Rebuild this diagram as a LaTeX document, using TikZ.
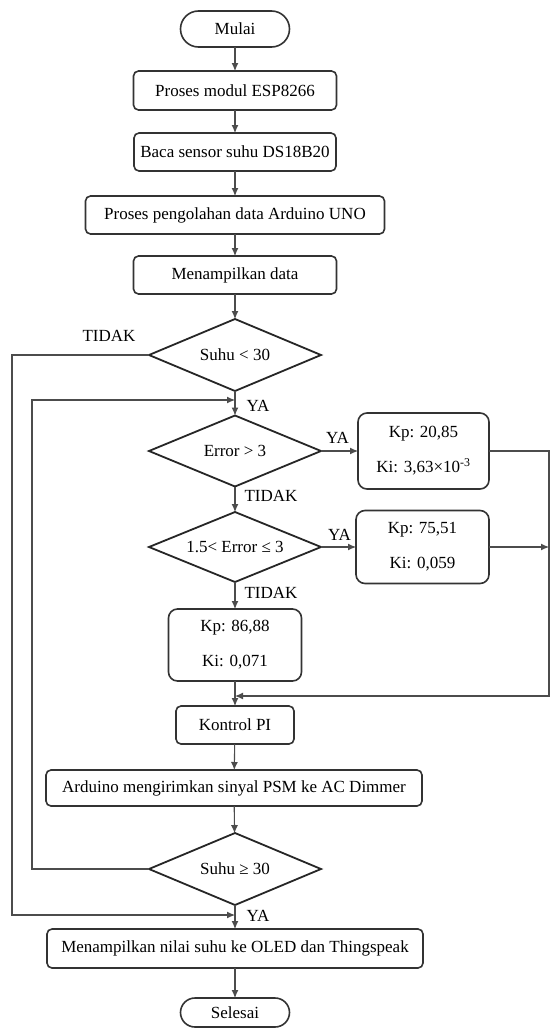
\documentclass[tikz,border=0pt]{standalone}
\usepackage{fontspec}
\setmainfont{Liberation Serif}
\usetikzlibrary{shapes.geometric,shapes.misc,arrows.meta}
\begin{document}
\begin{tikzpicture}[x=1pt,y=-1pt,
  every node/.style={font=\fontsize{17}{20}\selectfont, text=black},
  proc/.style={draw=black!80, line width=1.6pt, rounded corners=5pt, rectangle, inner sep=0pt, outer sep=0pt},
  kbox/.style={proc, rounded corners=9pt, align=center, font=\fontsize{17}{35}\selectfont},
  term/.style={draw=black!80, line width=1.6pt, rounded rectangle, inner sep=0pt, outer sep=0pt, minimum width=109pt, minimum height=36pt},
  dec/.style={draw=black!85, line width=1.8pt, diamond, aspect=2.39, inner sep=0pt, outer sep=0pt, minimum width=172pt, minimum height=72pt},
  arr/.style={draw=black!70, line width=1.1pt, -{Latex[length=8pt,width=7pt]}},
  lbl/.style={inner sep=0pt}
]
\useasboundingbox (0,0) rectangle (552,1028);
\fill[white] (0,0) rectangle (552,1028);

\node[term] (mulai) at (235,29) {Mulai};
\node[proc, minimum width=203pt, minimum height=39pt] (p1) at (235,90.5) {Proses modul ESP8266};
\node[proc, minimum width=202pt, minimum height=38pt] (p2) at (235,152) {Baca sensor suhu DS18B20};
\node[proc, minimum width=299pt, minimum height=38pt] (p3) at (235,215) {Proses pengolahan data Arduino UNO};
\node[proc, minimum width=203pt, minimum height=38pt] (p4) at (235,275) {Menampilkan data};
\node[dec] (d1) at (235,355) {Suhu < 30};
\node[dec, minimum height=71pt] (d2) at (235,451) {Error > 3};
\node[dec, minimum height=70pt] (d3) at (235,547) {1.5< Error ≤ 3};
\node[kbox, minimum width=131pt, minimum height=76pt] (k1) at (423.5,451) {Kp: 20,85\\Ki: 3,63×10\textsuperscript{-3}};
\node[kbox, minimum width=133pt, minimum height=73pt] (k2) at (422.5,547) {Kp: 75,51\\Ki: 0,059};
\node[kbox, minimum width=133pt, minimum height=72pt] (k3) at (235,645) {Kp: 86,88\\Ki: 0,071};
\node[proc, minimum width=118pt, minimum height=38pt] (pi) at (235,725) {Kontrol PI};
\node[proc, minimum width=376pt, minimum height=36pt] (ard) at (234,788) {Arduino mengirimkan sinyal PSM ke AC Dimmer};
\node[dec] (d4) at (235,869) {Suhu ≥ 30};
\node[proc, minimum width=376pt, minimum height=39pt] (out) at (235,948.5) {Menampilkan nilai suhu ke OLED dan Thingspeak};
\node[term, minimum height=29pt] (selesai) at (235,1012.5) {Selesai};

\coordinate (j1) at (235,400);
\coordinate (j2) at (235,915);
\coordinate (j3) at (235,696);
\coordinate (oL) at (12,915);
\coordinate (iL) at (32,400);
\coordinate (R1) at (549,696);
\coordinate (R2) at (549,547);

\draw[arr] (mulai) -- (p1);
\draw[arr] (p1) -- (p2);
\draw[arr] (p2) -- (p3);
\draw[arr] (p3) -- (p4);
\draw[arr] (p4) -- (d1);
\draw[arr] (d1.south) -- (d2.north);
\draw[arr] (d2.south) -- (d3.north);
\draw[arr] (d3.south) -- (k3.north);
\draw[arr] (k3.south) -- (pi.north);
\draw[arr] (pi) -- (ard);
\draw[arr] (ard) -- (d4);
\draw[arr] (d4.south) -- (out.north);
\draw[arr] (out) -- (selesai);
\draw[arr] (d2.east) -- (k1.west);
\draw[arr] (d3.east) -- (k2.west);
\draw[arr] (d1.west) -| (oL) -- (j2);
\draw[arr] (d4.west) -| (iL) -- (j1);
\draw[arr] (k1.east) -| (R1) -- (j3);
\draw[arr] (k2.east) -- (R2);

\node[lbl] (t1) at (109,336) {TIDAK};
\node[lbl] (y1) at (258,405.5) {YA};
\node[lbl] (t2) at (271,496) {TIDAK};
\node[lbl] (y2) at (337.5,438) {YA};
\node[lbl] (y3) at (339.5,535) {YA};
\node[lbl] (t3) at (271,593) {TIDAK};
\node[lbl] (y4) at (258,916) {YA};
\end{tikzpicture}
\end{document}
